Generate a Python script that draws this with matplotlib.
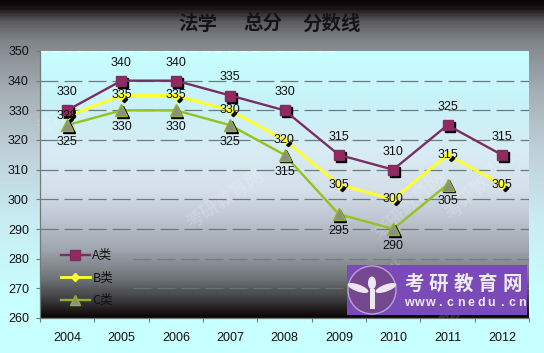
import numpy as np
import matplotlib
matplotlib.use('Agg')
import matplotlib.pyplot as plt
from matplotlib.colors import LinearSegmentedColormap as LSC
from matplotlib.transforms import offset_copy
from matplotlib.patches import Circle, Ellipse, Rectangle
from matplotlib.lines import Line2D

years = ['2004','2005','2006','2007','2008','2009','2010','2011','2012']
a_vals = [330,340,340,335,330,315,310,325,315]
b_vals = [328,335,335,330,320,305,300,315,305]
c_vals = [325,330,330,325,315,295,290,305]
title_parts = ['法学','总分','分数线']
site = '考研教育网'
url = 'www.cnedu.cn'
fam = ['Liberation Sans','Noto Sans CJK SC']
cjk = ['Noto Sans CJK SC','DejaVu Sans']
plt.rcParams['font.family'] = fam

W,H = 544,353
fig = plt.figure(figsize=(W/100,H/100),dpi=100)

def grad(stops):
    return LSC.from_list('g',[(p/ stops[-1][0],c) for p,c in stops])

bg = fig.add_axes([0,0,1,1],zorder=0); bg.axis('off')
outer = grad([(0,'#0a0304'),(8,'#1c1618'),(20,'#5a5a5e'),(40,'#80858a'),(90,'#a5aeb5'),(150,'#bfd0d8'),(220,'#c8ecf2'),(300,'#c8ffff'),(353,'#c8ffff')])
bg.imshow(np.linspace(0,1,353)[:,None],cmap=outer,aspect='auto',extent=[0,1,0,1],vmin=0,vmax=1)

L,R,T,B = 40,529,51,318
ax = fig.add_axes([L/W,1-B/H,(R-L)/W,(B-T)/H],zorder=1)
inner = grad([(0,'#c6ffff'),(50,'#c8f2f8'),(100,'#d8ecf4'),(140,'#d4dfea'),(170,'#bcc4d0'),(200,'#9ea4ac'),(230,'#6c7074'),(250,'#3a3a3c'),(267,'#0e0606')])
ax.imshow(np.linspace(0,1,267)[:,None],cmap=inner,aspect='auto',extent=[-0.5,8.5,260,350],vmin=0,vmax=1,zorder=0)
ax.set_xlim(-0.5,8.5); ax.set_ylim(260,350)

for (x,y,r) in [(0.2,330,25),(2.9,300,35),(6.3,298,45),(7.6,305,45),(6.5,268,-40)]:
    ax.text(x,y,site,rotation=r,fontsize=13,color='white',alpha=0.16,family=cjk,ha='center',va='center',fontweight='bold',zorder=1)

gc = '#6f7a7c'
dash = (0,(14.4,4.8))
for v in [340,330,320,310,300,290]:
    ax.hlines(v,-0.5,8.5,colors=gc,lw=0.9,linestyles=[dash],zorder=2)
for v in [280,270]:
    ax.hlines(v,1.22,8.5,colors=gc,lw=0.9,linestyles=[dash],zorder=2,alpha=0.8)
ax.hlines(350,-0.5,5.0,colors='white',lw=0.9,linestyles=[(0,(5,5))],zorder=2)

x = np.arange(9)
def shadow(dx,dy):
    return offset_copy(ax.transData,fig=fig,x=dx,y=-dy,units='points')
px = 0.72
ax.plot(x,a_vals,color='#7b2e62',lw=1.7,zorder=5)
ax.plot(x,b_vals,color='#ffff2e',lw=2.2,zorder=3.5)
ax.plot(x[:8],c_vals,color='#94c21e',lw=1.7,zorder=4)
ax.plot(x,a_vals,ls='',marker='s',ms=7.2,mfc='k',mec='k',transform=shadow(2*px,2*px),zorder=4.8)
ax.plot(x,a_vals,ls='',marker='s',ms=7.2,mfc='#93295f',mec='#7b2e62',zorder=5.2)
ax.plot(x,b_vals,ls='',marker='D',ms=3.2,mfc='k',mec='k',transform=shadow(3*px,3*px),zorder=3.6)
ax.plot(x,b_vals,ls='',marker='D',ms=4.5,mfc='#ffff2e',mec='#ffff2e',zorder=3.7)
ax.plot(x[:8],c_vals,ls='',marker='^',ms=8,mfc='k',mec='k',transform=shadow(1.5*px,1.5*px),zorder=4.1)
ax.plot(x[:8],c_vals,ls='',marker='^',ms=8,mfc='#8b8f80',mec='#94b030',zorder=4.2)

fs = 9
for i,v in enumerate(a_vals):
    ax.annotate(str(v),(i,v),xytext=(0,18*px),textcoords='offset points',ha='center',va='center',fontsize=fs,color='#111',zorder=8)
for i,v in enumerate(b_vals):
    ax.annotate(str(v),(i,v),xytext=(0,0),textcoords='offset points',ha='center',va='center',fontsize=fs,color='#111',zorder=8)
for i,v in enumerate(c_vals):
    ax.annotate(str(v),(i,v),xytext=(0,-17*px),textcoords='offset points',ha='center',va='center',fontsize=fs,color='#111',zorder=8)

ax.set_yticks(range(260,351,10))
ax.set_xticks(np.arange(-0.5,9,1)); ax.set_xticklabels([])
ax.set_xticks(x,minor=True); ax.set_xticklabels(years,minor=True,fontsize=fs,color='#111')
ax.tick_params(axis='x',which='minor',length=0,pad=10)
ax.tick_params(axis='x',which='major',length=3,width=0.8,color=gc)
ax.tick_params(axis='y',length=3,width=0.8,color=gc,labelsize=fs,labelcolor='#111',pad=5)
for s in ['top','right']: ax.spines[s].set_visible(False)
for s in ['left','bottom']:
    ax.spines[s].set_color(gc); ax.spines[s].set_linewidth(0.9)

hs = [Line2D([],[],color='#7b2e62',lw=1.7,marker='s',ms=6.5,mfc='#93295f',mec='#7b2e62'),
      Line2D([],[],color='#ffff2e',lw=2,marker='D',ms=4.5,mfc='#ffff2e',mec='#ffff2e'),
      Line2D([],[],color='#94b030',lw=1.7,marker='^',ms=7,mfc='#8b8f80',mec='#94b030')]
leg = ax.legend(hs,['A类','B类','C类'],loc='lower left',bbox_to_anchor=((61-L)/(R-L),(318-307)/(B-T)),frameon=False,
          borderpad=0,borderaxespad=0,labelspacing=0.75,handlelength=2.3,handletextpad=0.2,prop={'family':cjk,'size':9})
for t in leg.get_texts(): t.set_color('#111')
leg.set_zorder(7)

for t,xc in zip(title_parts,[198,263,331.5]):
    fig.text(xc/W,1-24/H,t,ha='center',va='center',fontsize=14,fontweight='bold',color='#151515',family=cjk,zorder=5)

ov = fig.add_axes([0,0,1,1],zorder=3); ov.set_xlim(0,W); ov.set_ylim(H,0); ov.axis('off'); ov.patch.set_alpha(0)
ov.add_patch(Rectangle((347,265),180,50,fc='#7a4ab8',ec='none'))
ov.add_patch(Circle((372,290),24,fc='#74478e',ec='#b7a3d6',lw=1))
ov.add_patch(Ellipse((372,283),8,13,fc='#eee6ee',ec='none'))
ov.add_patch(Ellipse((358,288),22,7,angle=20,fc='#eee6ee',ec='none'))
ov.add_patch(Ellipse((386,288),22,7,angle=-20,fc='#eee6ee',ec='none'))
ov.add_patch(Rectangle((369.5,289),5,20,fc='#eee6ee',ec='none'))
for i,ch in enumerate(site):
    ov.text(414+i*24.6,284,ch,fontsize=14,fontweight='bold',color='#eeeaf2',family=cjk,va='center',ha='center')
for i,ch in enumerate(url):
    ov.text(409+i*10.3,303,ch,fontsize=9,fontweight='bold',color='#eeeaf2',family=['Liberation Sans'],va='center',ha='center')

fig.savefig('out.png',dpi=100)
